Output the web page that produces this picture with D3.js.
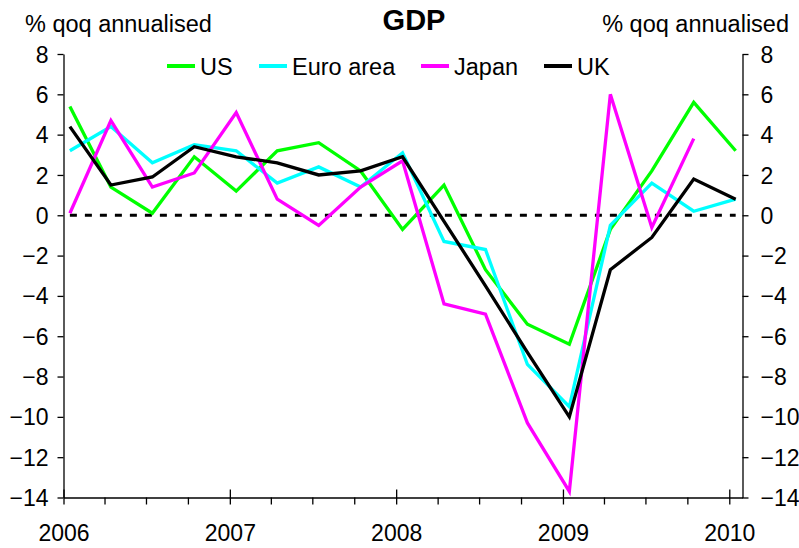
<!DOCTYPE html>
<html>
<head>
<meta charset="utf-8">
<script src="https://cdn.jsdelivr.net/npm/d3@7"></script>
<style>
  body { margin: 0; background: #fff; }
  text { font-family: "Liberation Sans", Arial, sans-serif; fill: #000; }
</style>
</head>
<body>
<script>
// quarterly data, % qoq annualised
var quarters = ["2006Q1","2006Q2","2006Q3","2006Q4","2007Q1","2007Q2","2007Q3","2007Q4",
                "2008Q1","2008Q2","2008Q3","2008Q4","2009Q1","2009Q2","2009Q3","2009Q4","2010Q1"];
var us    = [5.4, 1.4, 0.1, 2.9, 1.2, 3.2, 3.6, 2.2, -0.7, 1.5, -2.7, -5.4, -6.4, -0.7, 2.2, 5.6, 3.2];
var euro  = [3.2, 4.4, 2.6, 3.5, 3.2, 1.6, 2.4, 1.4, 3.1, -1.3, -1.7, -7.4, -9.5, -0.5, 1.6, 0.2, 0.8];
var japan = [0.1, 4.7, 1.4, 2.1, 5.1, 0.8, -0.5, 1.4, 2.7, -4.4, -4.9, -10.3, -13.7, 6.0, -0.6, 3.8];
var uk    = [4.4, 1.5, 1.9, 3.4, 2.9, 2.6, 2.0, 2.2, 2.9, -0.3, -3.5, -6.8, -10.0, -2.7, -1.1, 1.8, 0.8];
var yTicks = [-14, -12, -10, -8, -6, -4, -2, 0, 2, 4, 6, 8];
var yearLabels = ["2006", "2007", "2008", "2009", "2010"];

var series = [
  {name: "US", values: us, color: "#00ff00"},
  {name: "Euro area", values: euro, color: "#00ffff"},
  {name: "Japan", values: japan, color: "#ff00ff"},
  {name: "UK", values: uk, color: "#000000"}
];

// plot box (avoid the name "top", it is window.top)
var W = 799, H = 548;
var pL = 63.5, pR = 742.5, pT = 54, pB = 497.5;

// parse "2006Q1" -> mid of first month of the quarter
function qDate(q) {
  var yr = +q.slice(0, 4), qq = +q.slice(5);
  return new Date(yr, (qq - 1) * 3, 15);
}

var x = d3.scaleTime()
    .domain([new Date(2006, 0, 1), new Date(2010, 0, 30)])
    .range([pL, pR]);
var y = d3.scaleLinear().domain([-14, 8]).range([pB, pT]);

var svg = d3.select("body").append("svg")
    .attr("width", W)
    .attr("height", H);

// zero line
svg.append("line")
    .attr("x1", x(qDate(quarters[0])))
    .attr("x2", x(qDate(quarters[quarters.length - 1])))
    .attr("y1", y(0)).attr("y2", y(0))
    .style("stroke", "#000")
    .style("stroke-width", 3)
    .style("stroke-dasharray", "7,8");

// axes
var yl = svg.append("g")
    .attr("transform", "translate(" + pL + ",0)")
    .call(d3.axisLeft(y).tickValues(yTicks).tickSize(6).tickPadding(9).tickSizeOuter(0));
var yr = svg.append("g")
    .attr("transform", "translate(" + pR + ",0)")
    .call(d3.axisRight(y).tickValues(yTicks).tickSize(6).tickPadding(12).tickSizeOuter(0));

var qTicks = [];
for (var yy = 2006; yy <= 2010; yy++) {
  for (var m = 0; m < 12; m += 3) {
    if (yy === 2010 && m > 0) break;
    qTicks.push(new Date(yy, m, 1));
  }
}
var xa = svg.append("g")
    .attr("transform", "translate(0," + pB + ")")
    .call(d3.axisBottom(x).tickValues(qTicks).tickSize(7).tickSizeOuter(0).tickPadding(20)
      .tickFormat(function(d) { return d.getMonth() === 0 ? yearLabels[d.getFullYear() - 2006] : ""; }));

// year ticks cross the axis
xa.selectAll(".tick").filter(function(d) { return d.getMonth() === 0; })
  .select("line").attr("y1", -8).attr("y2", 7);

[yl, yr, xa].forEach(function(g) {
  g.select(".domain").style("stroke", "#000").style("stroke-width", 1.3);
  g.selectAll(".tick line").style("stroke", "#000").style("stroke-width", 1.3);
  g.selectAll(".tick text").style("font-size", "23px").style("font-family", "'Liberation Sans', Arial, sans-serif");
});
yl.selectAll(".tick text").attr("dy", "0.35em");
yr.selectAll(".tick text").attr("dy", "0.35em");

// series lines
var line = d3.line()
    .x(function(d, i) { return x(qDate(quarters[i])); })
    .y(function(d) { return y(d); });

series.forEach(function(s) {
  svg.append("path")
      .datum(s.values)
      .attr("d", line)
      .style("fill", "none")
      .style("stroke", s.color)
      .style("stroke-width", 3.3);
});

// titles
svg.append("text")
    .attr("x", 414).attr("y", 30)
    .attr("text-anchor", "middle")
    .style("font-size", "29px").style("font-weight", "bold")
    .text("GDP");
svg.append("text")
    .attr("x", 25).attr("y", 32)
    .style("font-size", "23.5px")
    .text("% qoq annualised");
svg.append("text")
    .attr("x", 789).attr("y", 32)
    .attr("text-anchor", "end")
    .style("font-size", "23.5px")
    .text("% qoq annualised");

// legend
var legendX = [167, 259, 421, 544];
series.forEach(function(s, i) {
  var g = svg.append("g").attr("transform", "translate(" + legendX[i] + ",66)");
  g.append("line").attr("x1", 0).attr("x2", 28).attr("y1", 0).attr("y2", 0)
      .style("stroke", s.color).style("stroke-width", 4);
  g.append("text").attr("x", 33).attr("y", 8.5)
      .style("font-size", "23.5px")
      .text(s.name);
});
</script>
</body>
</html>
